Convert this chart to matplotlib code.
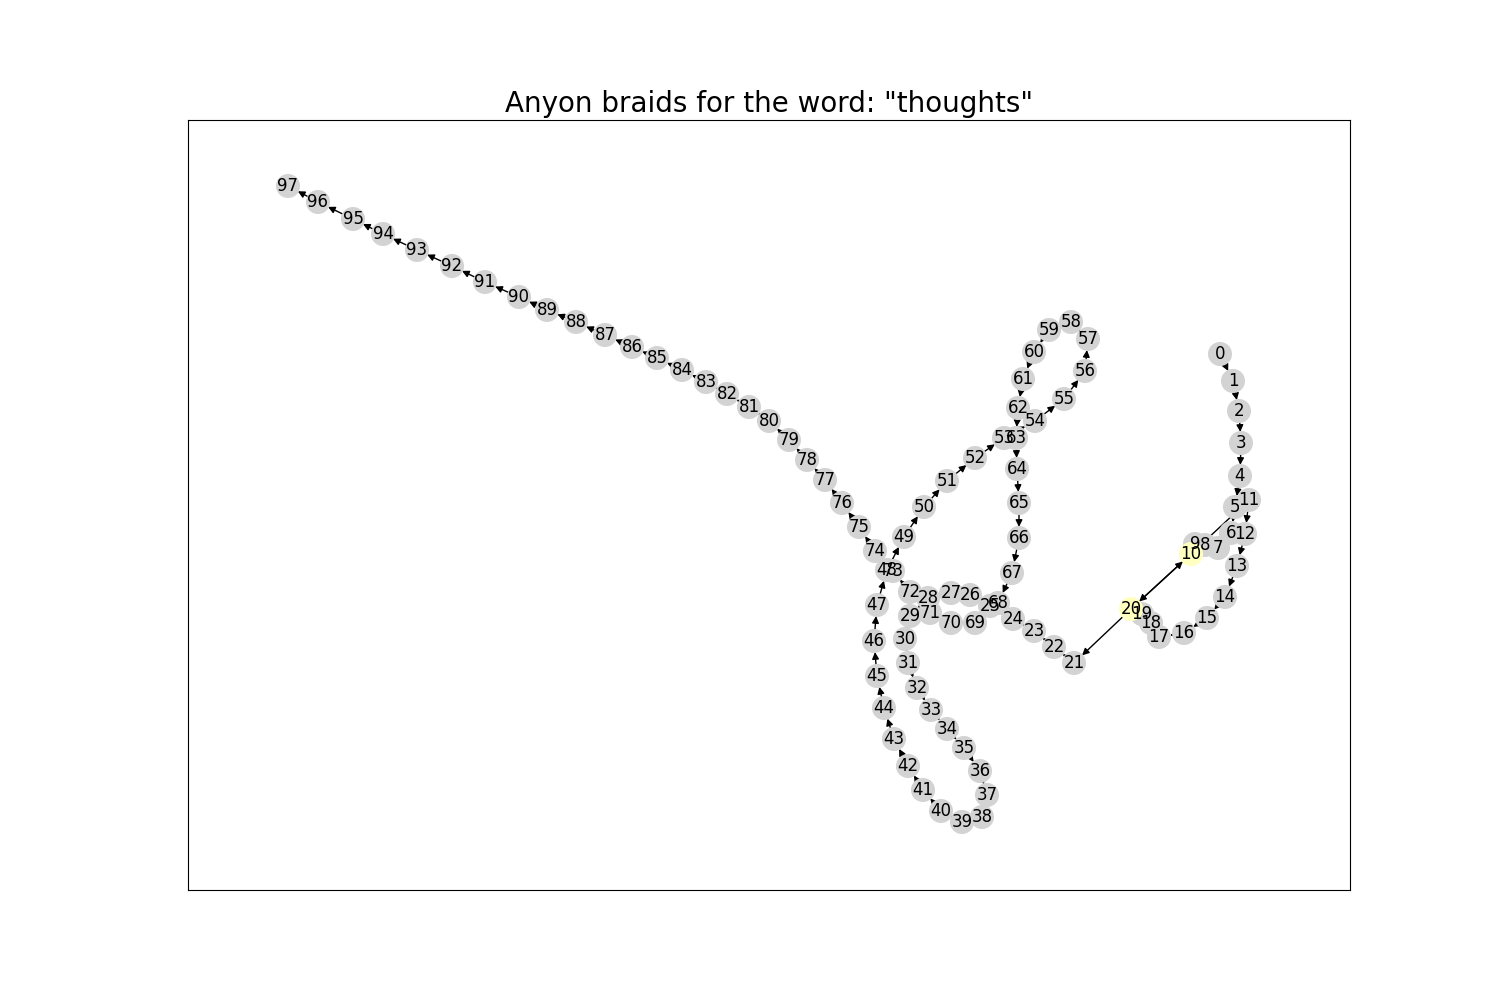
import matplotlib
matplotlib.use("Agg")
import matplotlib.pyplot as plt
from matplotlib.patches import FancyArrowPatch

# node layout positions (screen-like coords)
xs = [1220, 1233, 1239, 1241, 1240, 1235, 1231, 1218, 1205, 1195,
      1191, 1249, 1245, 1237, 1225, 1207, 1184, 1159, 1151, 1142,
      1131, 1074, 1054, 1034, 1013, 990, 970, 951, 928, 910,
      905, 908, 917, 931, 947, 964, 980, 987, 982, 962,
      941, 923, 908, 894, 884, 877, 874, 877, 887, 904,
      924, 947, 975, 1004, 1035, 1064, 1085, 1088, 1071, 1049,
      1034, 1023, 1018, 1016, 1017, 1019, 1019, 1012, 998, 975,
      951, 930, 910, 893, 875, 859, 842, 825, 807, 789,
      769, 749, 727, 706, 682, 657, 632, 605, 576, 547,
      519, 485, 452, 417, 383, 353, 318, 288]
ys = [354, 381, 411, 443, 476, 507, 533, 548, 545, 544,
      554, 500, 534, 566, 597, 618, 633, 637, 623, 614,
      609, 663, 647, 631, 619, 606, 595, 593, 598, 616,
      639, 663, 688, 710, 729, 748, 771, 795, 817, 822,
      811, 790, 766, 739, 708, 676, 641, 605, 570, 537,
      507, 481, 458, 438, 421, 399, 371, 339, 322, 330,
      352, 379, 408, 438, 469, 503, 538, 573, 603, 623,
      623, 613, 592, 571, 551, 527, 503, 480, 460, 440,
      421, 407, 394, 382, 370, 358, 347, 335, 322, 310,
      297, 282, 266, 250, 234, 219, 202, 186]
highlight = [10, 20]
extra_edges = [(10, 20), (20, 10)]

edges = [(i, i + 1) for i in range(len(xs) - 1)] + extra_edges

fig = plt.figure(figsize=(15, 10), dpi=100)
ax = fig.add_axes([188 / 1500, 110 / 1000, 1162 / 1500, 770 / 1000])
ax.set_xlim(188, 1350)
ax.set_ylim(890, 120)

for a, b in edges:
    ax.add_patch(FancyArrowPatch((xs[a], ys[a]), (xs[b], ys[b]),
                                 arrowstyle='-|>', mutation_scale=10,
                                 shrinkA=8, shrinkB=8, color='black', lw=1,
                                 zorder=1))

colors = ['#ffffc0' if i in highlight else 'lightgray' for i in range(len(xs))]
ax.scatter(xs, ys, s=300, c=colors, zorder=2, linewidths=0)
for i, (x, y) in enumerate(zip(xs, ys)):
    ax.text(x, y, str(i), ha='center', va='center', fontsize=12, zorder=3)

ax.set_xticks([])
ax.set_yticks([])
ax.set_title('Anyon braids for the word: "thoughts"', fontsize=20)
fig.savefig('out.png')
